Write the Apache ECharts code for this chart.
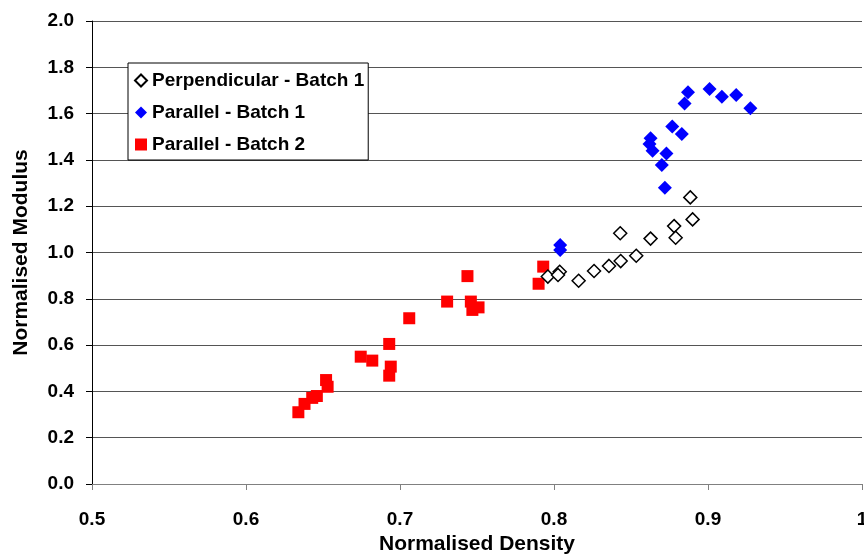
<!DOCTYPE html>
<html>
<head>
<meta charset="utf-8">
<script src="https://cdn.jsdelivr.net/npm/echarts@6/dist/echarts.min.js"></script>
</head>
<body style="margin:0;background:#fff">
<div id="chart" style="width:864px;height:560px"></div>
<script>
// Perpendicular - Batch 1 (hollow diamonds)
var perpBatch1 = [
  [0.796, 0.896], [0.8037, 0.917], [0.8026, 0.903], [0.816, 0.878],
  [0.826, 0.920], [0.8357, 0.942], [0.8433, 0.963], [0.843, 1.083],
  [0.8534, 0.986], [0.8627, 1.060], [0.878, 1.114], [0.879, 1.064],
  [0.890, 1.143], [0.8885, 1.238]
];
// Parallel - Batch 1 (blue diamonds)
var paraBatch1 = [
  [0.804, 1.032], [0.804, 1.011], [0.870, 1.378], [0.872, 1.280],
  [0.873, 1.428], [0.8627, 1.493], [0.862, 1.469], [0.864, 1.440],
  [0.8768, 1.544], [0.883, 1.512], [0.8848, 1.644], [0.887, 1.692],
  [0.901, 1.706], [0.909, 1.673], [0.9183, 1.680], [0.9275, 1.623]
];
// Parallel - Batch 2 (red squares)
var paraBatch2 = [
  [0.634, 0.310], [0.638, 0.346], [0.643, 0.372], [0.646, 0.380],
  [0.652, 0.449], [0.653, 0.420], [0.6745, 0.550], [0.682, 0.533],
  [0.693, 0.605], [0.694, 0.507], [0.693, 0.468], [0.706, 0.716],
  [0.7306, 0.788], [0.7438, 0.898], [0.746, 0.788], [0.747, 0.752],
  [0.751, 0.763], [0.793, 0.939], [0.790, 0.865]
];

var chart = echarts.init(document.getElementById('chart'));
var font = 'Liberation Sans, Arial, sans-serif';

var option = {
  animation: false,
  grid: {left: 92, right: 2, top: 21, bottom: 76, outerBoundsMode: 'none'},
  legend: {
    orient: 'vertical',
    left: 128, top: 63,
    padding: [8, 4, 6, 6],
    itemGap: 13,
    itemWidth: 12, itemHeight: 12,
    borderColor: '#000', borderWidth: 1,
    backgroundColor: '#fff',
    textStyle: {fontFamily: font, fontWeight: 'bold', fontSize: 19, color: '#000', lineHeight: 19},
    data: ['Perpendicular - Batch 1', 'Parallel - Batch 1', 'Parallel - Batch 2']
  },
  xAxis: {
    type: 'value', min: 0.5, max: 1, interval: 0.1,
    name: 'Normalised Density', nameLocation: 'middle', nameGap: 49,
    nameTextStyle: {fontFamily: font, fontWeight: 'bold', fontSize: 21, color: '#000'},
    axisLine: {lineStyle: {color: '#808080', width: 1}},
    axisTick: {length: 6, lineStyle: {color: '#808080'}},
    splitLine: {show: false},
    axisLabel: {
      fontFamily: font, fontWeight: 'bold', fontSize: 19, color: '#000', margin: 26,
      formatter: function (v) { return v === 1 ? '1' : v.toFixed(1); }
    }
  },
  yAxis: {
    type: 'value', min: 0, max: 2, interval: 0.2,
    name: 'Normalised Modulus', nameLocation: 'middle', nameGap: 60,
    nameTextStyle: {fontFamily: font, fontWeight: 'bold', fontSize: 21, color: '#000'},
    axisLine: {show: true, lineStyle: {color: '#000', width: 1}},
    axisTick: {show: true, length: 6, lineStyle: {color: '#000'}},
    splitLine: {lineStyle: {color: '#555', width: 1}},
    axisLabel: {
      fontFamily: font, fontWeight: 'bold', fontSize: 19, color: '#000', margin: 18,
      formatter: function (v) { return v.toFixed(1); }
    }
  },
  series: [
    {
      name: 'Perpendicular - Batch 1', type: 'scatter', symbol: 'diamond', symbolSize: 13,
      itemStyle: {color: '#fff', borderColor: '#000', borderWidth: 1.5, opacity: 1},
      data: perpBatch1, z: 3
    },
    {
      name: 'Parallel - Batch 1', type: 'scatter', symbol: 'diamond', symbolSize: 14,
      itemStyle: {color: '#0000ff', opacity: 1},
      data: paraBatch1, z: 4
    },
    {
      name: 'Parallel - Batch 2', type: 'scatter', symbol: 'rect', symbolSize: 12,
      itemStyle: {color: '#ff0000', opacity: 1},
      data: paraBatch2, z: 2
    }
  ]
};
chart.setOption(option);
</script>
</body>
</html>
